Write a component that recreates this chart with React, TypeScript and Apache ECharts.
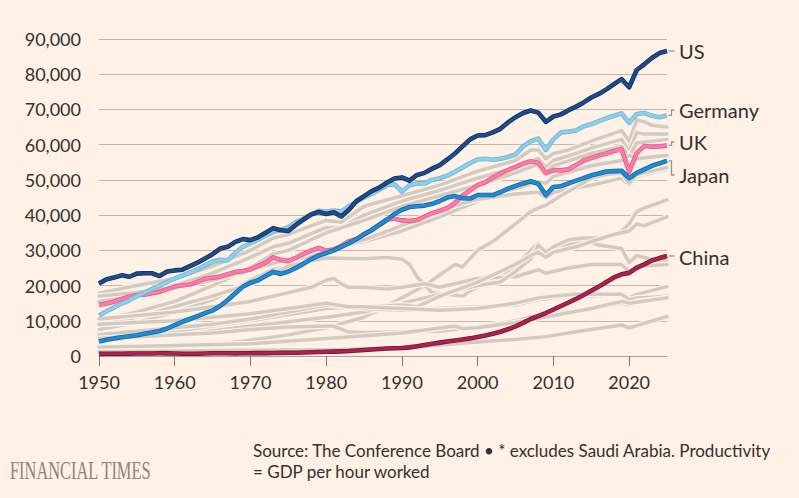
import React, { useEffect, useRef } from "react";
import * as echarts from "echarts";

// Labour productivity, GDP per hour worked (US$), 1950-2025
const FIRST_YEAR = 1950;
const LAST_YEAR = 2025;
const years: number[] = [];
for (let y = FIRST_YEAR; y <= LAST_YEAR; y++) years.push(y);

const yTicks = [0, 10000, 20000, 30000, 40000, 50000, 60000, 70000, 80000, 90000];
const xTicks = [1950, 1960, 1970, 1980, 1990, 2000, 2010, 2020];

const us = [
  20600, 21800, 22300, 22900, 22500, 23400, 23500, 23500, 22700, 24000,
  24300, 24500, 25500, 26500, 27700, 28900, 30500, 31000, 32400, 33200,
  32900, 33700, 35000, 36300, 35700, 35500, 37200, 38700, 40200, 40900,
  40300, 40800, 39600, 41500, 44000, 45400, 46800, 47800, 49200, 50400,
  50700, 49800, 51400, 52000, 53200, 54200, 55800, 57500, 59500, 61500,
  62600, 62700, 63500, 64500, 66300, 67800, 69000, 69700, 69100, 66500,
  68000, 68600, 69800, 70800, 72000, 73400, 74400, 75700, 77200, 78600,
  76300, 81200, 82800, 84600, 86000, 86600,
];

const germany = [
  11500, 12700, 13800, 14900, 15800, 17000, 18000, 19000, 20000, 21000,
  22000, 22800, 23700, 24600, 25700, 26800, 27300, 27200, 29300, 31000,
  32000, 33000, 34200, 35200, 35800, 36600, 38000, 39000, 40000, 41200,
  41000, 41300, 41000, 42500, 43800, 45000, 46000, 47200, 48500, 48800,
  46700, 48500, 49000, 49000, 50000, 50500, 51200, 52300, 53500, 54800,
  55800, 56000, 55700, 56000, 56500, 57200, 59500, 61000, 61700, 58500,
  61500, 63500, 63700, 64000, 65200, 65800, 66700, 67500, 68200, 68900,
  66200, 68700, 69000, 68200, 67800, 68300,
];

const uk = [
  14500, 14900, 15400, 16200, 16800, 17300, 17400, 17800, 18200, 19000,
  19700, 20100, 20300, 21000, 22000, 22200, 22600, 23200, 23900, 24100,
  24600, 25600, 26500, 28000, 27300, 26900, 27900, 29000, 29900, 30700,
  29900, 30200, 31300, 32600, 33200, 34500, 35800, 37300, 38800, 39000,
  38500, 38300, 38600, 39600, 40600, 41200, 42000, 43500, 45500, 47000,
  48500, 49300, 50700, 51800, 52800, 53700, 54600, 55300, 54800, 51900,
  52800, 52700, 53000, 54200, 55500, 56200, 56900, 57500, 58200, 58700,
  52300, 57600, 59600, 59400, 59500, 59800,
];

const japan = [
  4100, 4600, 5000, 5300, 5600, 5900, 6300, 6700, 7100, 7800,
  8800, 9700, 10500, 11300, 12200, 12900, 14200, 15900, 17800, 19700,
  20800, 21500, 22700, 23900, 23300, 24000, 25000, 26200, 27500, 28500,
  29200, 30000, 31000, 32000, 33200, 34600, 35700, 37200, 38600, 40300,
  41500, 42300, 42500, 42700, 43200, 44000, 45000, 45400, 44800, 44700,
  45700, 45700, 45700, 46500, 47500, 48300, 49000, 49600, 48900, 45700,
  48000, 48200, 49000, 49800, 50500, 51300, 51800, 52400, 52500, 52600,
  50500, 52000, 53000, 54000, 54700, 55400,
];

const china = [
  600, 620, 640, 660, 680, 700, 720, 730, 760, 750,
  700, 620, 620, 650, 700, 760, 780, 760, 750, 780,
  800, 820, 830, 860, 880, 920, 920, 980, 1050, 1120,
  1200, 1250, 1320, 1420, 1580, 1720, 1830, 1980, 2150, 2200,
  2250, 2450, 2780, 3150, 3500, 3800, 4100, 4400, 4700, 5000,
  5400, 5800, 6300, 6900, 7600, 8400, 9400, 10500, 11300, 12200,
  13200, 14200, 15200, 16200, 17300, 18500, 19700, 21000, 22300, 23200,
  23600, 25000, 26000, 27100, 27800, 28400,
];

// Other economies, drawn in grey as [year, value] readings
const otherA: [number, number][] = [[1950,17800],[1955,20000],[1960,22000],[1965,25500],[1970,30000],[1973,33500],[1975,34500],[1980,38500],[1982,38000],[1985,42500],[1990,45500],[1995,48500],[2000,52500],[2005,55500],[2007,58500],[2008,58500],[2009,56000],[2010,57500],[2012,58500],[2015,61000],[2017,62500],[2019,64000],[2020,61000],[2021,67000],[2022,66500],[2023,65500],[2025,65000]];
const otherB: [number, number][] = [[1950,15500],[1955,17500],[1960,20000],[1965,23500],[1970,28000],[1973,31000],[1975,32000],[1980,36500],[1982,36500],[1985,40000],[1990,44000],[1995,47000],[2000,50500],[2005,53500],[2008,56000],[2009,53500],[2010,55500],[2013,57500],[2015,59000],[2019,61500],[2020,58000],[2021,63500],[2022,63000],[2025,63000]];
const otherC: [number, number][] = [[1950,10000],[1955,12500],[1960,15500],[1965,20000],[1970,25000],[1973,29000],[1975,30000],[1980,35000],[1985,38500],[1990,42500],[1995,45500],[2000,48500],[2005,52000],[2008,54500],[2009,52000],[2010,54000],[2015,57500],[2019,59500],[2020,56500],[2021,60500],[2025,61500]];
const otherD: [number, number][] = [[1950,17000],[1955,18000],[1960,19500],[1965,21500],[1970,24500],[1975,27500],[1980,30000],[1985,32500],[1990,35500],[1995,39500],[2000,44000],[2005,47500],[2008,49500],[2009,49000],[2010,51000],[2015,54000],[2019,55500],[2020,57000],[2021,56000],[2025,57000]];
const otherE: [number, number][] = [[1950,7500],[1955,9500],[1960,12500],[1965,16000],[1970,21500],[1973,24500],[1975,25500],[1980,30000],[1985,33000],[1990,37000],[1995,41500],[2000,44500],[2005,46000],[2008,46500],[2009,45000],[2010,46500],[2015,48500],[2019,50500],[2020,48500],[2021,51000],[2025,53000]];
const otherF: [number, number][] = [[1950,1800],[1955,2200],[1960,2600],[1965,3200],[1970,4500],[1975,6000],[1980,8000],[1985,11000],[1990,16500],[1993,20000],[1995,23000],[1997,26000],[1998,25300],[2000,30000],[2002,32500],[2005,37500],[2007,41000],[2008,42000],[2009,42800],[2011,45500],[2013,48000],[2015,50500],[2017,51500],[2019,52000],[2020,49000],[2021,51500],[2023,52500],[2025,53500]];
const otherG: [number, number][] = [[1950,9000],[1955,11000],[1960,14000],[1965,17000],[1970,20500],[1975,25500],[1978,27000],[1980,27800],[1985,27600],[1988,28000],[1990,27500],[1991,26000],[1992,22500],[1993,20000],[1994,18000],[1996,17500],[1998,17000],[1999,18500],[2000,19500],[2003,23000],[2005,25500],[2007,30000],[2008,32000],[2009,29200],[2011,31000],[2014,33000],[2016,31500],[2019,30500],[2020,26500],[2021,28500],[2023,27500],[2025,27000]];
const otherH: [number, number][] = [[1950,10500],[1955,11500],[1960,12500],[1965,14000],[1970,15500],[1975,18000],[1978,19500],[1980,21500],[1981,22000],[1982,20500],[1983,19500],[1985,19500],[1988,19000],[1990,19500],[1993,20500],[1995,19500],[1998,21000],[2000,22000],[2005,22500],[2008,24500],[2009,23500],[2012,25000],[2015,26000],[2019,26000],[2020,24000],[2021,25500],[2025,26000]];
const otherI: [number, number][] = [[1950,4500],[1960,6000],[1970,8500],[1980,11000],[1985,12500],[1990,15000],[1995,17500],[2000,20000],[2003,21000],[2005,24000],[2007,27500],[2008,31500],[2009,29500],[2010,31000],[2012,33000],[2014,33500],[2016,33500],[2018,34500],[2019,35500],[2020,37500],[2021,41000],[2022,42000],[2025,44300]];
const otherJ: [number, number][] = [[1950,5500],[1960,7000],[1970,10000],[1980,13500],[1985,14000],[1990,14500],[1992,14000],[1995,17000],[2000,21000],[2005,26000],[2007,28500],[2008,29500],[2009,28000],[2010,29500],[2013,31000],[2015,32500],[2018,34500],[2019,35000],[2020,35500],[2021,37500],[2022,37000],[2025,39500]];
const otherK: [number, number][] = [[1950,6000],[1955,7000],[1960,8000],[1965,9000],[1970,10500],[1975,12500],[1980,14500],[1985,13500],[1990,13000],[1995,13500],[2000,14000],[2005,14500],[2008,16000],[2010,16500],[2013,17500],[2015,17000],[2019,17500],[2020,16500],[2021,17500],[2025,19700]];
const otherL: [number, number][] = [[1950,9000],[1955,9500],[1960,10000],[1965,11000],[1970,12000],[1975,13500],[1980,15000],[1983,14000],[1985,14000],[1990,13500],[1995,13000],[2000,13500],[2005,15000],[2008,16500],[2010,17000],[2013,17500],[2015,17500],[2019,17500],[2020,16000],[2021,16500],[2025,17000]];
const otherM: [number, number][] = [[1950,5000],[1955,5500],[1960,6000],[1965,6500],[1970,7500],[1975,8200],[1980,8500],[1981,8500],[1983,6800],[1985,6700],[1990,6800],[1995,7000],[2000,8300],[2005,10000],[2008,11500],[2010,12000],[2015,13500],[2019,15000],[2020,14500],[2021,15500],[2025,16500]];
const otherN: [number, number][] = [[1950,2500],[1960,3000],[1970,3500],[1980,5000],[1990,6500],[1997,8500],[1998,7800],[2000,8000],[2005,9500],[2010,11500],[2015,13500],[2019,15500],[2020,15000],[2025,16500]];
const otherO: [number, number][] = [[1950,1200],[1960,1400],[1970,1600],[1980,1800],[1990,2300],[2000,4000],[2005,4700],[2009,5500],[2013,6900],[2019,8800],[2020,8000],[2025,11200]];

const others = [otherA, otherB, otherC, otherD, otherE, otherF, otherG, otherH, otherI, otherJ, otherK, otherL, otherM, otherN, otherO];

type Highlight = {
  name: string;
  values: number[];
  color: string;
  edge: string;
  labelY: number;
};

// Drawn bottom to top
const highlighted: Highlight[] = [
  { name: "UK", values: uk, color: "#ff7aa8", edge: "#df5a8a", labelY: 142 },
  { name: "Japan", values: japan, color: "#1e8bd6", edge: "#10669f", labelY: 175 },
  { name: "China", values: china, color: "#a8234f", edge: "#7a1237", labelY: 257 },
  { name: "Germany", values: germany, color: "#8ccfea", edge: "#6db6d4", labelY: 110 },
  { name: "US", values: us, color: "#1c4c8c", edge: "#0e2d5c", labelY: 51 },
];

const PAPER = "#fff1e5";
const INK = "#33302e";
const GREY_LINE = "#d5cac0";
const FONT = "Lato";

export default function App() {
  const ref = useRef<HTMLDivElement>(null);

  useEffect(() => {
    const el = ref.current;
    if (!el) return;
    const chart = echarts.init(el, null, { renderer: "svg" });

    const series: any[] = [];
    others.forEach((pts, i) => {
      series.push({
        type: "line", name: `halo${i}`, data: pts, symbol: "none", silent: true,
        lineStyle: { color: "#fbf3ea", width: 5.8, cap: "round", join: "round" },
      });
      series.push({
        type: "line", name: `other${i}`, data: pts, symbol: "none", silent: true,
        lineStyle: { color: GREY_LINE, width: 3.5, cap: "round", join: "round" },
      });
    });
    highlighted.forEach((h) => {
      const pts = years.map((y, i) => [y, h.values[i]]);
      series.push({
        type: "line", name: `${h.name}-edge`, data: pts, symbol: "none", silent: true,
        lineStyle: { color: h.edge, width: 4.6, join: "round" },
      });
      series.push({
        type: "line", name: h.name, data: pts, symbol: "none", silent: true,
        lineStyle: { color: h.color, width: 3.0, join: "round" },
      });
    });

    chart.setOption({
      animation: false,
      backgroundColor: PAPER,
      grid: { left: 99, right: 132, top: 39, bottom: 142, containLabel: false },
      xAxis: {
        type: "value",
        min: FIRST_YEAR,
        max: LAST_YEAR,
        interval: 10,
        splitLine: { show: false },
        axisLine: { show: true, lineStyle: { color: "#a99f95", width: 1 } },
        axisTick: { show: true, length: 10, customValues: xTicks, lineStyle: { color: "#7d746d", width: 1 } },
        axisLabel: {
          customValues: xTicks,
          margin: 17,
          color: INK,
          fontFamily: FONT,
          fontSize: 18,
          formatter: (v: number) => String(v),
        },
      },
      yAxis: {
        type: "value",
        min: yTicks[0],
        max: yTicks[yTicks.length - 1],
        interval: 10000,
        axisLine: { show: false },
        axisTick: { show: false },
        splitLine: { show: true, lineStyle: { color: "#c2b8ad", width: 1.2 } },
        axisLabel: {
          margin: 18,
          color: INK,
          fontFamily: FONT,
          fontSize: 18,
          formatter: (v: number) => v.toLocaleString("en-US"),
        },
      },
      series,
    });

    // End-of-line labels with small leader lines
    const graphics: any[] = [];
    const labelX = 679;
    highlighted.forEach((h) => {
      const last = h.values[h.values.length - 1];
      const [ex, ey] = chart.convertToPixel({ gridIndex: 0 }, [LAST_YEAR, last]) as number[];
      const x0 = ex + 1.5;
      const xm = ex + 4.5;
      const x1 = ex + 7.5;
      const points = Math.abs(ey - h.labelY) < 2
        ? [[x0, ey], [x1, ey]]
        : [[x0, ey], [xm, ey], [xm, h.labelY], [x1, h.labelY]];
      graphics.push({
        type: "polyline",
        shape: { points },
        style: { stroke: "#9d938a", lineWidth: 1.3, fill: "none" },
        silent: true,
      });
      graphics.push({
        type: "text",
        x: labelX,
        y: h.labelY,
        style: { text: h.name, fill: INK, font: `20px ${FONT}`, verticalAlign: "middle", align: "left" },
        silent: true,
      });
    });

    graphics.push({
      type: "text",
      x: 10,
      y: 470.5,
      scaleX: 0.63,
      style: {
        text: "FINANCIAL TIMES",
        fill: "#8c847d",
        font: "26px 'Liberation Serif'",
        verticalAlign: "middle",
        align: "left",
      },
      silent: true,
    });
    graphics.push({
      type: "text",
      x: 253,
      y: 450,
      style: {
        text: "Source: The Conference Board \u2022 * excludes Saudi Arabia. Productivity",
        fill: INK,
        font: `17px ${FONT}`,
        verticalAlign: "middle",
        align: "left",
      },
      silent: true,
    });
    graphics.push({
      type: "text",
      x: 253,
      y: 471,
      style: {
        text: "= GDP per hour worked",
        fill: INK,
        font: `17px ${FONT}`,
        verticalAlign: "middle",
        align: "left",
      },
      silent: true,
    });

    chart.setOption({ graphic: graphics });

    return () => chart.dispose();
  }, []);

  return (
    <div
      ref={ref}
      style={{ position: "fixed", left: 0, top: 0, width: 799, height: 498, background: PAPER }}
    />
  );
}
